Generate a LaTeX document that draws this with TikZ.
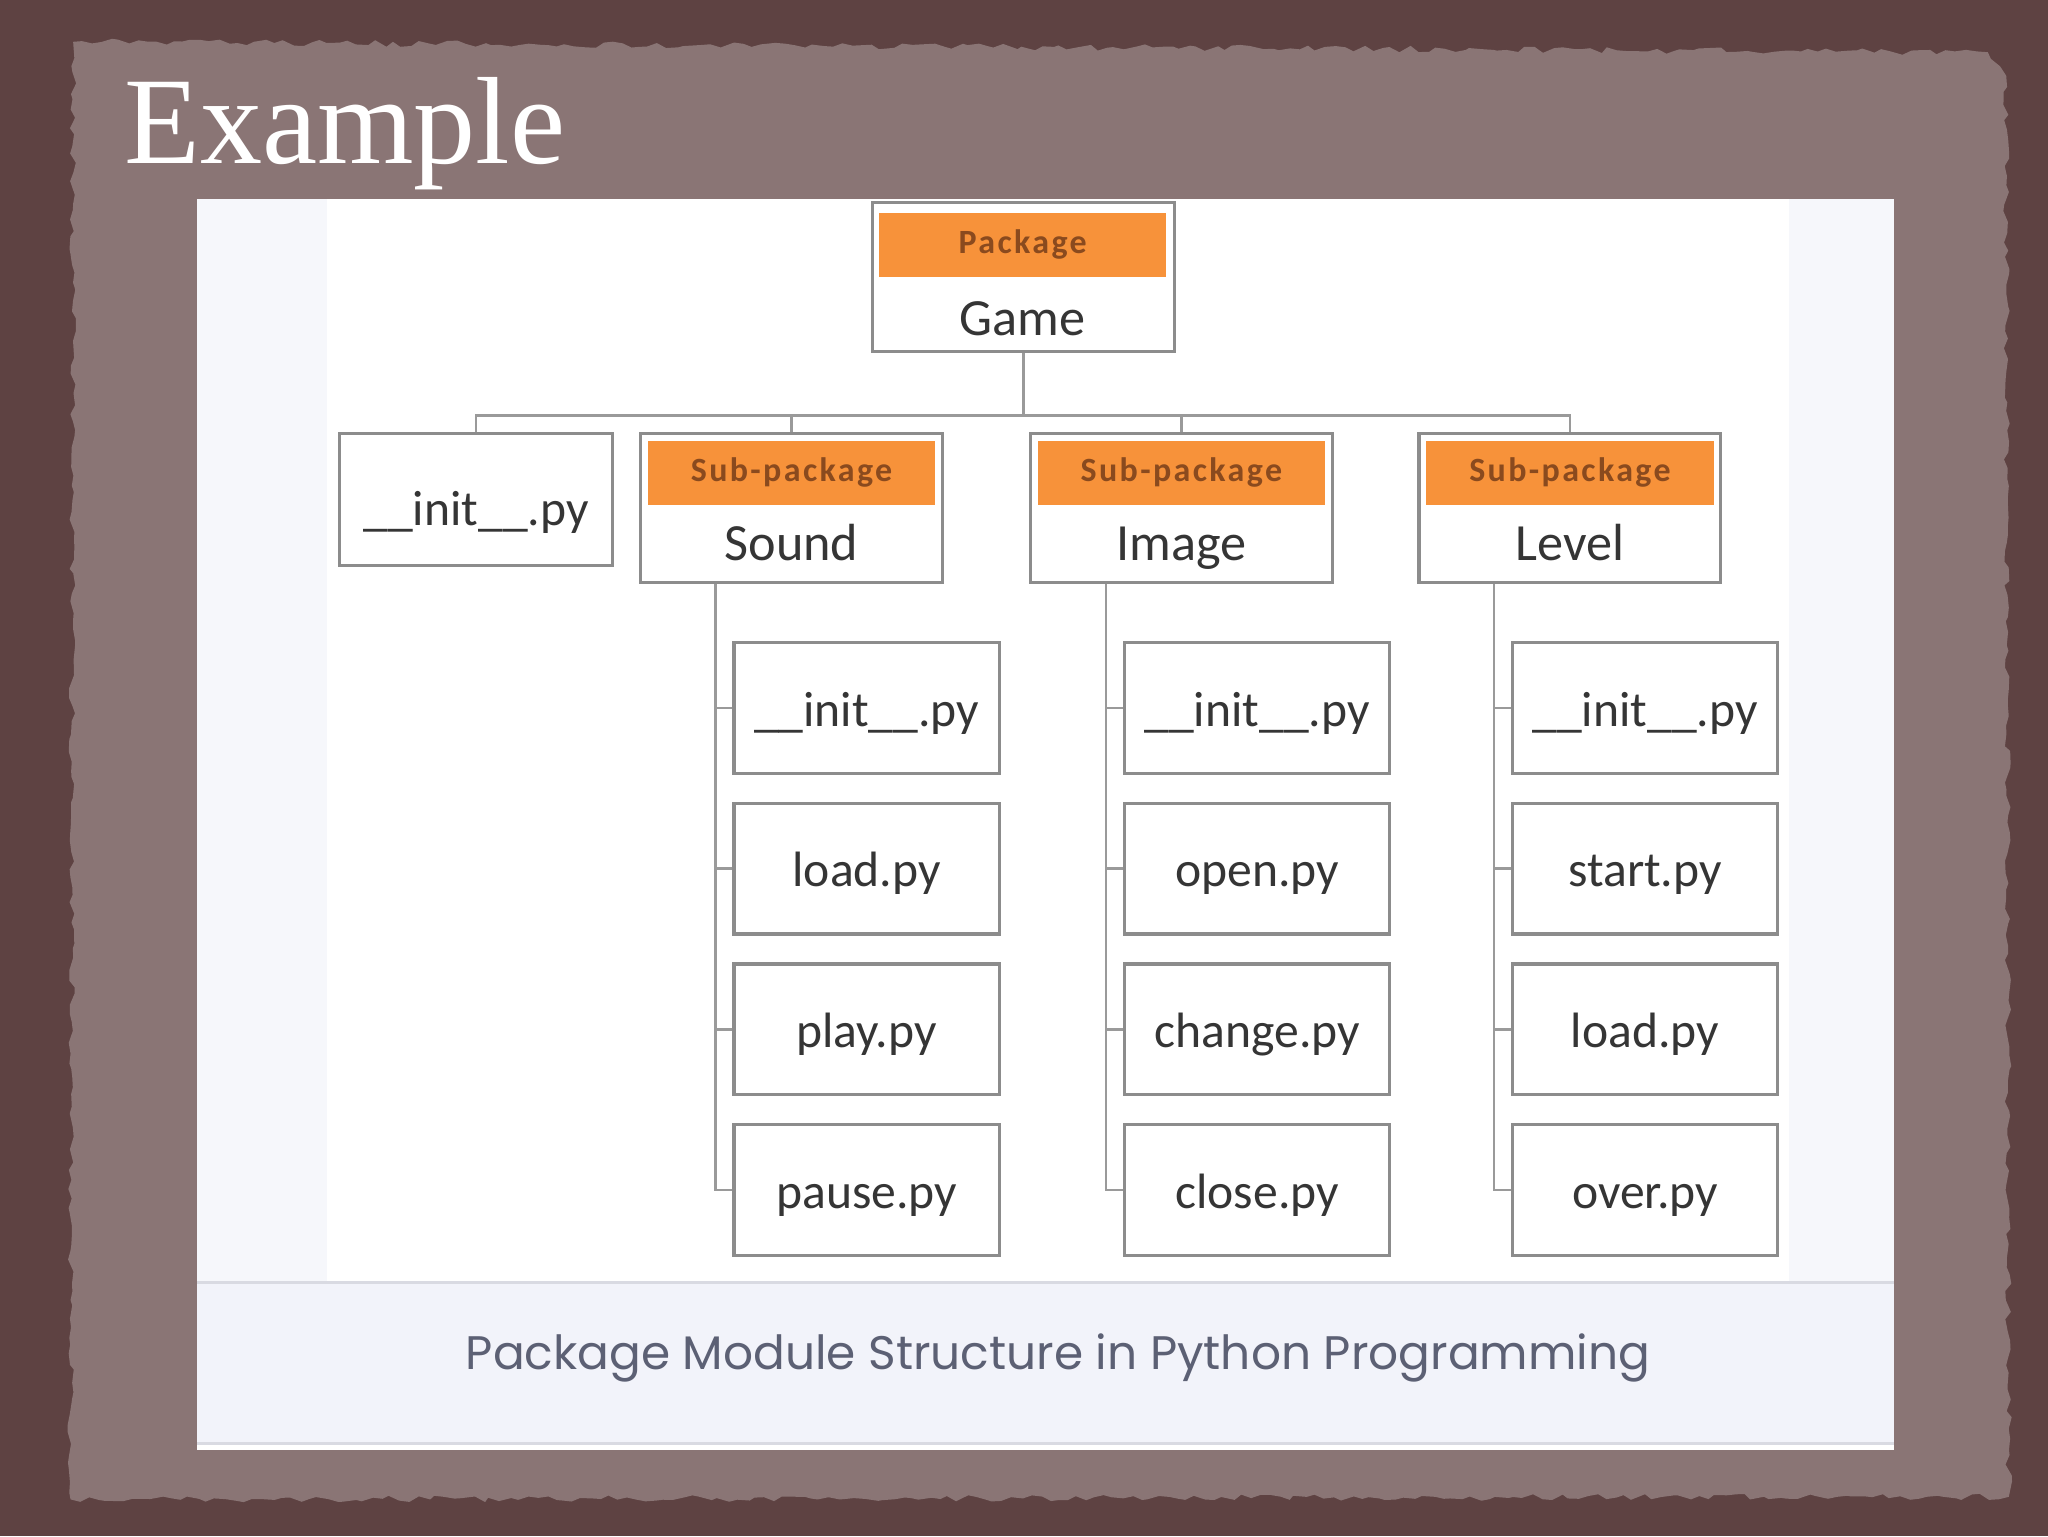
\documentclass[tikz,border=0pt]{standalone}
\usepackage{fontspec}
\setmainfont{Carlito}
\newfontfamily\titlefont{Liberation Serif}
\newfontfamily\captionfont{Poppins}
\newfontfamily\headfont{Carlito}[LetterSpace=7.0]
\usetikzlibrary{calc,decorations.pathmorphing}

\definecolor{roughbg}{HTML}{5E4242}
\definecolor{paper}{HTML}{8A7575}
\definecolor{boxgray}{HTML}{8C8C8C}
\definecolor{linegray}{HTML}{9A9A9A}
\definecolor{headorange}{HTML}{F7923A}
\definecolor{headtext}{HTML}{8A4A1E}
\definecolor{txtgray}{HTML}{353535}
\definecolor{capband}{HTML}{F2F3FA}
\definecolor{captext}{HTML}{5C6074}
\definecolor{sidepanel}{HTML}{F6F7FB}
\definecolor{bandline}{HTML}{D9DAE2}

\newcommand{\initpy}{\_\_init\_\_.py}

\tikzset{
    filebox/.style={rectangle,draw=boxgray,line width=2.5pt,fill=white,
        minimum width=203pt,minimum height=100pt,inner sep=0pt,
        text height=30pt,text depth=2pt,
        font=\fontsize{38}{40}\selectfont,text=txtgray},
    pkgbox/.style={rectangle,draw=boxgray,line width=2.5pt,fill=white,
        minimum width=231pt,minimum height=114pt},
    pkghead/.style={rectangle,fill=headorange,minimum width=220pt,minimum height=49pt,
        inner sep=0pt,text height=19pt,text depth=6pt,
        font=\headfont\fontsize{26}{28}\selectfont\bfseries,text=headtext},
    pkgname/.style={anchor=base,inner sep=0pt,
        font=\fontsize{40}{42}\selectfont,text=txtgray},
    link/.style={draw=linegray,line width=2pt},
}

\begin{document}
\begin{tikzpicture}[x=1pt,y=-1pt]
    \useasboundingbox (0,0) rectangle (1568,1176);
    % slide background
    \fill[roughbg] (0,0) rectangle (1568,1176);
    \pgfmathsetseed{7}
    \fill[paper,decorate,decoration={random steps,segment length=7pt,amplitude=2.5pt}]
        (56,32) -- (1522,40) -- (1536,58) -- (1538,1146) -- (54,1148) -- cycle;
    \node[anchor=base west,inner sep=0pt,text=white,
        font=\titlefont\fontsize{95}{98}\selectfont] (title) at (95,125) {Example};

    % white panel
    \fill[white] (151,152) rectangle (1450,1110);
    \fill[sidepanel] (151,152) rectangle (250,982);
    \fill[sidepanel] (1370,152) rectangle (1450,982);
    \fill[capband] (151,982) rectangle (1450,1105);
    \draw[bandline,line width=2pt] (151,982) -- (1450,982);
    \draw[bandline,line width=2pt] (151,1105) -- (1450,1105);
    \node[text=captext,font=\captionfont\fontsize{36}{38}\selectfont] (caption)
        at (810,1040) {Package Module Structure in Python Programming};

    % top package
    \node[pkgbox] (game) at (783.5,212) {};
    \node[pkghead] (gamehead) at (783,187.5) {Package};
    \node[pkgname] (gamename) at (783,257) {Game};

    % first level
    \node[filebox,minimum width=209pt,minimum height=101pt,
        text height=40pt,text depth=0pt] (init) at (364.5,382.5) {\initpy};
    \foreach \pk/\px/\nm in {sound/606/Sound,image/904.5/Image,level/1202/Level} {
        \node[pkgbox] (\pk) at (\px,389) {};
        \node[pkghead] (\pk head) at (\px,362.5) {Sub-package};
        \node[pkgname] (\pk name) at (\px,429) {\nm};
    }

    % bus from Game
    \coordinate (bus) at (783.5,318);
    \draw[link] (game.south) -- (bus);
    \draw[link] (init.north) -- (init.north |- bus) -- (level.north |- bus) -- (level.north);
    \draw[link] (sound.north) -- (sound.north |- bus);
    \draw[link] (image.north) -- (image.north |- bus);

    % modules of each sub-package
    \foreach \pk/\fx/\files in {sound/663.5/{\initpy,load.py,play.py,pause.py},
                                image/962.5/{\initpy,open.py,change.py,close.py},
                                level/1259.5/{\initpy,start.py,load.py,over.py}} {
        \foreach \f [count=\i] in \files {
            \node[filebox] (\pk\i) at (\fx,{542+123*(\i-1)}) {\f};
        }
        \coordinate (\pk spine) at ($(\pk1.west)+(-13,0)$);
        \draw[link] (\pk spine |- \pk.south) -- (\pk spine |- \pk4.west) -- (\pk4.west);
        \foreach \i in {1,2,3} {
            \draw[link] (\pk spine |- \pk\i.west) -- (\pk\i.west);
        }
    }
\end{tikzpicture}
\end{document}
